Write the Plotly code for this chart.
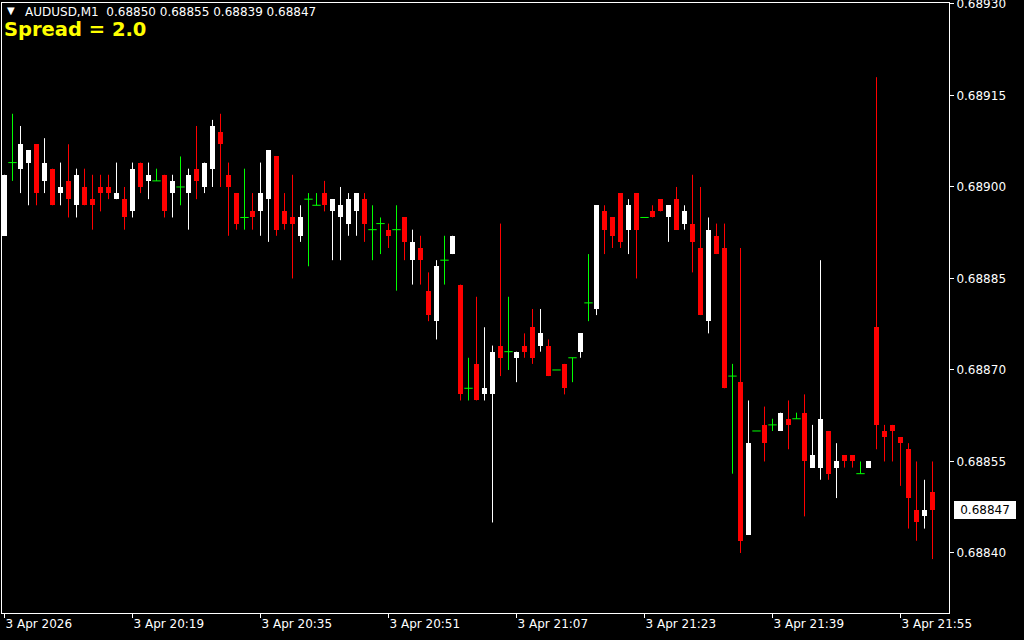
import plotly.graph_objects as go

# AUDUSD M1 candles, 20:03 .. 21:59 (one per minute)
opens = [0.68892, 0.68904, 0.68903, 0.68904, 0.68907, 0.68901, 0.68903, 0.68899, 0.68901, 0.68897,
         0.68900, 0.68898, 0.68900, 0.68900, 0.68898, 0.68898, 0.68896, 0.68904, 0.68901, 0.68901,
         0.68902, 0.68899, 0.68900, 0.68899, 0.68903, 0.68900, 0.68903, 0.68909, 0.68902, 0.68899,
         0.68895, 0.68896, 0.68896, 0.68898, 0.68905, 0.68896, 0.68895, 0.68892, 0.68898, 0.68897,
         0.68899, 0.68896, 0.68895, 0.68894, 0.68896, 0.68898, 0.68893, 0.68894, 0.68893, 0.68893,
         0.68895, 0.68888, 0.68890, 0.68883, 0.68878, 0.68888, 0.68889, 0.68884, 0.68867, 0.68871,
         0.68866, 0.68866, 0.68874, 0.68873, 0.68872, 0.68874, 0.68877, 0.68874, 0.68874, 0.68870,
         0.68871, 0.68872, 0.68873, 0.68881, 0.68880, 0.68896, 0.68895, 0.68899, 0.68893, 0.68899,
         0.68895, 0.68896, 0.68898, 0.68895, 0.68898, 0.68894, 0.68894, 0.68890, 0.68878, 0.68892,
         0.68890, 0.68869, 0.68868, 0.68843, 0.68860, 0.68861, 0.68861, 0.68860, 0.68862, 0.68862,
         0.68863, 0.68854, 0.68854, 0.68860, 0.68854, 0.68856, 0.68856, 0.68853, 0.68854, 0.68877,
         0.68860, 0.68861, 0.68859, 0.68857, 0.68847, 0.68846, 0.68850]
highs = [0.68902, 0.68912, 0.68910, 0.68906, 0.68907, 0.68908, 0.68903, 0.68904, 0.68907, 0.68903,
         0.68903, 0.68902, 0.68902, 0.68902, 0.68904, 0.68900, 0.68904, 0.68904, 0.68904, 0.68903,
         0.68902, 0.68902, 0.68905, 0.68903, 0.68910, 0.68904, 0.68911, 0.68912, 0.68904, 0.68899,
         0.68903, 0.68899, 0.68904, 0.68906, 0.68905, 0.68899, 0.68902, 0.68897, 0.68899, 0.68899,
         0.68901, 0.68898, 0.68900, 0.68899, 0.68899, 0.68899, 0.68897, 0.68895, 0.68894, 0.68897,
         0.68895, 0.68893, 0.68892, 0.68886, 0.68888, 0.68892, 0.68892, 0.68884, 0.68872, 0.68882,
         0.68877, 0.68874, 0.68894, 0.68882, 0.68873, 0.68876, 0.68880, 0.68880, 0.68875, 0.68870,
         0.68871, 0.68872, 0.68876, 0.68889, 0.68897, 0.68897, 0.68895, 0.68899, 0.68898, 0.68899,
         0.68895, 0.68897, 0.68898, 0.68897, 0.68900, 0.68897, 0.68902, 0.68900, 0.68895, 0.68894,
         0.68894, 0.68871, 0.68890, 0.68865, 0.68860, 0.68864, 0.68862, 0.68863, 0.68865, 0.68863,
         0.68866, 0.68861, 0.68888, 0.68860, 0.68858, 0.68856, 0.68856, 0.68855, 0.68855, 0.68918,
         0.68861, 0.68861, 0.68859, 0.68858, 0.68855, 0.68852, 0.68855]
lows = [0.68892, 0.68901, 0.68899, 0.68897, 0.68897, 0.68899, 0.68897, 0.68897, 0.68895, 0.68895,
        0.68897, 0.68893, 0.68896, 0.68898, 0.68898, 0.68893, 0.68895, 0.68899, 0.68898, 0.68901,
        0.68895, 0.68895, 0.68897, 0.68893, 0.68898, 0.68899, 0.68900, 0.68900, 0.68892, 0.68893,
        0.68893, 0.68893, 0.68892, 0.68891, 0.68892, 0.68893, 0.68885, 0.68891, 0.68887, 0.68897,
        0.68896, 0.68888, 0.68888, 0.68892, 0.68892, 0.68891, 0.68888, 0.68889, 0.68890, 0.68883,
        0.68888, 0.68884, 0.68884, 0.68878, 0.68875, 0.68884, 0.68889, 0.68865, 0.68865, 0.68865,
        0.68865, 0.68845, 0.68869, 0.68870, 0.68868, 0.68872, 0.68871, 0.68873, 0.68869, 0.68870,
        0.68866, 0.68868, 0.68872, 0.68878, 0.68879, 0.68889, 0.68890, 0.68890, 0.68889, 0.68885,
        0.68895, 0.68895, 0.68896, 0.68891, 0.68893, 0.68893, 0.68886, 0.68879, 0.68876, 0.68889,
        0.68867, 0.68853, 0.68840, 0.68843, 0.68860, 0.68855, 0.68860, 0.68860, 0.68857, 0.68862,
        0.68846, 0.68854, 0.68852, 0.68852, 0.68849, 0.68854, 0.68854, 0.68853, 0.68854, 0.68857,
        0.68855, 0.68855, 0.68851, 0.68844, 0.68842, 0.68844, 0.68839]
closes = [0.68902, 0.68904, 0.68907, 0.68906, 0.68899, 0.68904, 0.68897, 0.68900, 0.68898, 0.68902,
          0.68897, 0.68897, 0.68899, 0.68899, 0.68899, 0.68895, 0.68903, 0.68900, 0.68902, 0.68901,
          0.68896, 0.68901, 0.68900, 0.68902, 0.68901, 0.68904, 0.68910, 0.68907, 0.68900, 0.68894,
          0.68895, 0.68895, 0.68899, 0.68906, 0.68893, 0.68894, 0.68894, 0.68895, 0.68898, 0.68897,
          0.68897, 0.68898, 0.68897, 0.68898, 0.68899, 0.68894, 0.68893, 0.68894, 0.68892, 0.68893,
          0.68891, 0.68891, 0.68888, 0.68879, 0.68887, 0.68888, 0.68892, 0.68866, 0.68867, 0.68865,
          0.68867, 0.68873, 0.68872, 0.68873, 0.68873, 0.68873, 0.68872, 0.68876, 0.68869, 0.68870,
          0.68867, 0.68872, 0.68876, 0.68881, 0.68897, 0.68893, 0.68892, 0.68891, 0.68897, 0.68893,
          0.68895, 0.68895, 0.68896, 0.68897, 0.68893, 0.68896, 0.68891, 0.68879, 0.68893, 0.68889,
          0.68867, 0.68869, 0.68842, 0.68858, 0.68860, 0.68858, 0.68861, 0.68863, 0.68861, 0.68862,
          0.68855, 0.68856, 0.68862, 0.68853, 0.68855, 0.68855, 0.68855, 0.68853, 0.68855, 0.68861,
          0.68859, 0.68860, 0.68858, 0.68849, 0.68845, 0.68847, 0.68847]

time_tick_pos = [0, 16, 32, 48, 64, 80, 96, 112]
time_tick_text = ["3 Apr 2026", "3 Apr 20:19", "3 Apr 20:35", "3 Apr 20:51",
                  "3 Apr 21:07", "3 Apr 21:23", "3 Apr 21:39", "3 Apr 21:55"]
price_ticks = [0.68840, 0.68855, 0.68870, 0.68885, 0.68900, 0.68915, 0.68930]

symbol = "AUDUSD,M1"
spread_text = "Spread = 2.0"

W, H = 1024, 640
ML, MR, MT, MB = 2, 75, 3, 27
PW, PH = W - ML - MR, H - MT - MB
FONT = "DejaVu Sans"
X0 = -0.3125  # puts candle centres on pixel centres


def px_x(px):
    return (px - ML) / PW


def px_y(py):
    return (H - MB - py) / PH


bull, bear, doji = [], [], []
for i, (o, c) in enumerate(zip(opens, closes)):
    if c > o:
        bull.append(i)
    elif c < o:
        bear.append(i)
    else:
        doji.append(i)


def wick_xy(idx):
    xs, ys = [], []
    for i in idx:
        xs += [i, i, None]
        ys += [lows[i], highs[i], None]
    return xs, ys


fig = go.Figure()

for idx, color in [(bull, "#ffffff"), (bear, "#ff0000"), (doji, "#00ff00")]:
    wx, wy = wick_xy(idx)
    fig.add_trace(go.Scatter(x=wx, y=wy, mode="lines", line=dict(color=color, width=1),
                             hoverinfo="skip", showlegend=False))

for idx, color in [(bull, "#ffffff"), (bear, "#ff0000")]:
    fig.add_trace(go.Bar(
        x=idx,
        base=[min(opens[i], closes[i]) for i in idx],
        y=[abs(closes[i] - opens[i]) for i in idx],
        width=0.625,
        marker=dict(color=color, line=dict(width=0)),
        hoverinfo="skip", showlegend=False,
    ))

fig.add_trace(go.Scatter(
    x=doji, y=[opens[i] for i in doji], mode="markers",
    marker=dict(symbol="line-ew", size=6, line=dict(color="#00ff00", width=1)),
    hoverinfo="skip", showlegend=False,
))

fig.update_layout(
    width=W, height=H,
    margin=dict(l=ML, r=MR, t=MT, b=MB, autoexpand=False),
    paper_bgcolor="#000000", plot_bgcolor="#000000",
    barmode="overlay", bargap=0,
    font=dict(family=FONT, size=12, color="#ffffff"),
    showlegend=False,
)

fig.update_xaxes(
    range=[X0, X0 + PW / 8],
    tickvals=time_tick_pos, ticktext=time_tick_text,
    ticks="outside", ticklen=4, tickcolor="#ffffff",
    ticklabelposition="outside right", ticklabeloverflow="allow",
    showgrid=False, zeroline=False,
    showline=True, linecolor="#ffffff", linewidth=1, mirror=True,
    tickfont=dict(family=FONT, size=12, color="#ffffff"),
)
fig.update_yaxes(
    range=[0.6883016, 0.6893016], side="right",
    tickvals=price_ticks, tickformat=".5f",
    ticks="outside", ticklen=4, tickcolor="#ffffff",
    ticklabeloverflow="allow",
    showgrid=False, zeroline=False,
    showline=True, linecolor="#ffffff", linewidth=1, mirror=True,
    tickfont=dict(family=FONT, size=12, color="#ffffff"),
)

header = f"{symbol}  " + " ".join(f"{v:.5f}" for v in [opens[-1], highs[-1], lows[-1], closes[-1]])

fig.add_annotation(xref="paper", yref="paper", x=px_x(5), y=px_y(11),
                   xanchor="left", yanchor="middle", showarrow=False,
                   text="▼", font=dict(family=FONT, size=10, color="#ffffff"))
fig.add_annotation(xref="paper", yref="paper", x=px_x(23), y=px_y(12),
                   xanchor="left", yanchor="middle", showarrow=False,
                   text=header, font=dict(family=FONT, size=12, color="#ffffff"))
fig.add_annotation(xref="paper", yref="paper", x=px_x(2), y=px_y(29),
                   xanchor="left", yanchor="middle", showarrow=False,
                   text=f"<b>{spread_text}</b>",
                   font=dict(family=FONT, size=19.5, color="#ffff00"))

# current price label on the price scale
fig.add_annotation(xref="paper", yref="y", x=px_x(954), y=closes[-1],
                   xanchor="left", yanchor="middle", showarrow=False,
                   text=f"{closes[-1]:.5f}", bgcolor="#ffffff", bordercolor="#ffffff",
                   borderpad=1, width=58,
                   font=dict(family=FONT, size=12, color="#000000"))

# page has a default 8px body margin; drop it so the chart fills the window
fig.write_html("out.html", config={"displayModeBar": False},
               post_script="document.body.style.margin='0';")
